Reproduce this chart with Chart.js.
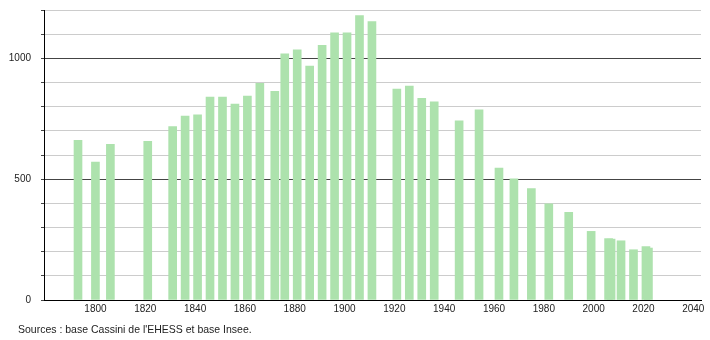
<!DOCTYPE html>
<html>
<head>
<meta charset="utf-8">
<script src="https://cdn.jsdelivr.net/npm/chart.js@4"></script>
<style>
  body { margin: 0; background: #fff; }
  #wrap { position: relative; width: 710px; height: 340px; }
  #src { position: absolute; left: 18px; top: 323px; font: 10.5px "Liberation Sans", Arial, sans-serif; color: #222; white-space: nowrap; }
</style>
</head>
<body>
<div id="wrap">
  <canvas id="c" width="710" height="340"></canvas>
  <div id="src">Sources : base Cassini de l'EHESS et base Insee.</div>
</div>
<script>
// census years and population
const years = [1793, 1800, 1806, 1821, 1831, 1836, 1841, 1846, 1851, 1856, 1861, 1866,
  1872, 1876, 1881, 1886, 1891, 1896, 1901, 1906, 1911, 1921, 1926, 1931, 1936,
  1946, 1954, 1962, 1968, 1975, 1982, 1990, 1999, 2006, 2007, 2011, 2016, 2021, 2022]
const population = [661, 571, 644, 657, 718, 761, 766, 840, 840, 811, 844, 897,
  863, 1019, 1035, 968, 1054, 1106, 1106, 1177, 1152, 873, 885, 834, 820,
  741, 787, 546, 501, 461, 398, 363, 284, 254, 252, 245, 208, 221, 215]

const xTicks = [1800, 1820, 1840, 1860, 1880, 1900, 1920, 1940, 1960, 1980, 2000, 2020, 2040]
const yTicks = [0, 100, 200, 300, 400, 500, 600, 700, 800, 900, 1000, 1100, 1200]
const yLabelled = [0, 500, 1000]

const font = {family: '"Liberation Sans", Arial, sans-serif', size: 10}

new Chart(document.getElementById('c'), {
  type: 'bar',
  data: {
    datasets: [{
      data: years.map((y, i) => ({x: y, y: population[i]})),
      backgroundColor: '#ade2ad',
      borderWidth: 0,
      barThickness: 8
    }]
  },
  options: {
    responsive: false,
    animation: false,
    layout: {padding: {top: 10, right: 9, left: 0, bottom: 0}},
    plugins: {legend: {display: false}, tooltip: {enabled: false}},
    scales: {
      x: {
        type: 'linear',
        offset: false,
        min: 1779.35,
        max: 2043.1,
        afterBuildTicks: s => { s.ticks = xTicks.map(v => ({value: v})) },
        afterFit: s => { s.height = 40; s.paddingLeft = 0; s.paddingRight = 0 },
        grid: {display: false, drawTicks: false},
        border: {color: '#000', width: 1},
        ticks: {color: '#222', font, padding: 3, maxRotation: 0, callback: v => String(v)}
      },
      y: {
        min: 0,
        max: 1200,
        afterBuildTicks: s => { s.ticks = yTicks.map(v => ({value: v})) },
        afterFit: s => { s.width = 44; s.paddingTop = 0; s.paddingBottom = 0 },
        grid: {
          color: c => (c.tick && c.tick.value % 500 === 0) ? '#444' : '#ccc',
          tickColor: '#444',
          tickLength: 3,
          lineWidth: 1
        },
        border: {color: '#000', width: 1},
        ticks: {
          color: '#222', font, padding: 10,
          callback: v => yLabelled.includes(v) ? String(v) : ''
        }
      }
    }
  }
})
</script>
</body>
</html>
